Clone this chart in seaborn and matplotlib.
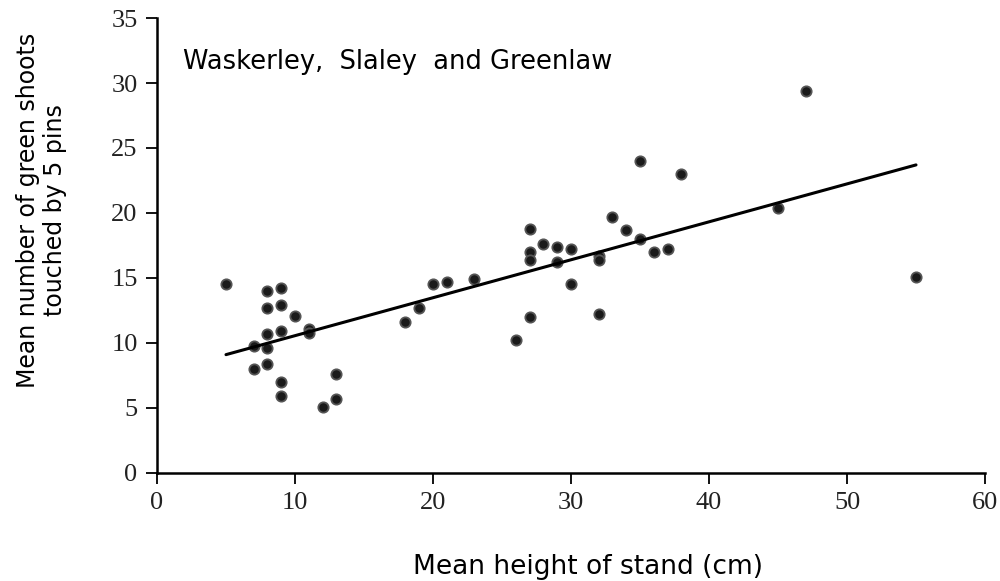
import matplotlib
matplotlib.use("Agg")
import matplotlib.pyplot as plt
import seaborn as sns
import pandas as pd

height_cm = [5, 7, 7, 8, 8, 8, 8, 8, 9, 9, 9, 9, 9, 10, 11, 11, 12, 13, 13,
             18, 19, 20, 21, 23, 26, 27, 27, 27, 27, 28, 29, 29, 30, 30,
             32, 32, 32, 33, 34, 35, 35, 36, 37, 38, 45, 47, 55]
green_shoots = [14.5, 9.8, 8.0, 14.0, 12.7, 10.7, 9.6, 8.4, 14.2, 12.9, 10.9, 7.0, 5.9, 12.1, 11.1, 10.8, 5.1, 7.6, 5.7,
                11.6, 12.7, 14.5, 14.7, 14.9, 10.2, 18.8, 17.0, 16.4, 12.0, 17.6, 17.4, 16.2, 17.2, 14.5,
                16.7, 16.4, 12.2, 19.7, 18.7, 24.0, 18.0, 17.0, 17.2, 23.0, 20.4, 29.4, 15.1]
x_ticks = [0, 10, 20, 30, 40, 50, 60]
y_ticks = [0, 5, 10, 15, 20, 25, 30, 35]

df = pd.DataFrame({"height": height_cm, "shoots": green_shoots})

sns.set_theme(style="ticks")
plt.rcParams["font.family"] = ["DejaVu Sans"]
plt.rcParams["text.color"] = "black"
plt.rcParams["axes.labelcolor"] = "black"

fig = plt.figure(figsize=(10, 5.81), dpi=100)
ax = fig.add_axes([0.157, 0.186, 0.828, 0.783])

sns.regplot(data=df, x="height", y="shoots", ax=ax, ci=None, truncate=True,
            scatter_kws=dict(s=55, color="#1a1a1a", edgecolor="#555555", linewidths=1.3, alpha=1),
            line_kws=dict(color="black", lw=2.2))

ax.set_xlim(0, 60)
ax.set_ylim(0, 35)
ax.set_xticks(x_ticks)
ax.set_yticks(y_ticks)
ax.set_xticklabels([str(t) for t in x_ticks])
ax.set_yticklabels([str(t) for t in y_ticks])
ax.tick_params(axis="both", direction="out", length=8, width=1.3, colors="black", pad=6,
               labelsize=19, labelcolor="#222222", labelfontfamily="Liberation Serif")
for s in ["top", "right"]:
    ax.spines[s].set_visible(False)
for s in ["left", "bottom"]:
    ax.spines[s].set_linewidth(1.8)
    ax.spines[s].set_color("black")

ax.set_xlabel("Mean height of stand (cm)", fontsize=19, color="black")
ax.xaxis.label.set_va("center")
ax.xaxis.set_label_coords(0.52, -0.207)
ax.set_ylabel("Mean number of green shoots\ntouched by 5 pins", fontsize=17,
              linespacing=1.15, color="black")
ax.yaxis.label.set_va("center")
ax.yaxis.set_label_coords(-0.140, 0.578)
ax.text(1.9, 31.6, "Waskerley,  Slaley  and Greenlaw", fontsize=18.5, ha="left", va="center", color="black")

fig.savefig("out.png", dpi=100, facecolor="white")
